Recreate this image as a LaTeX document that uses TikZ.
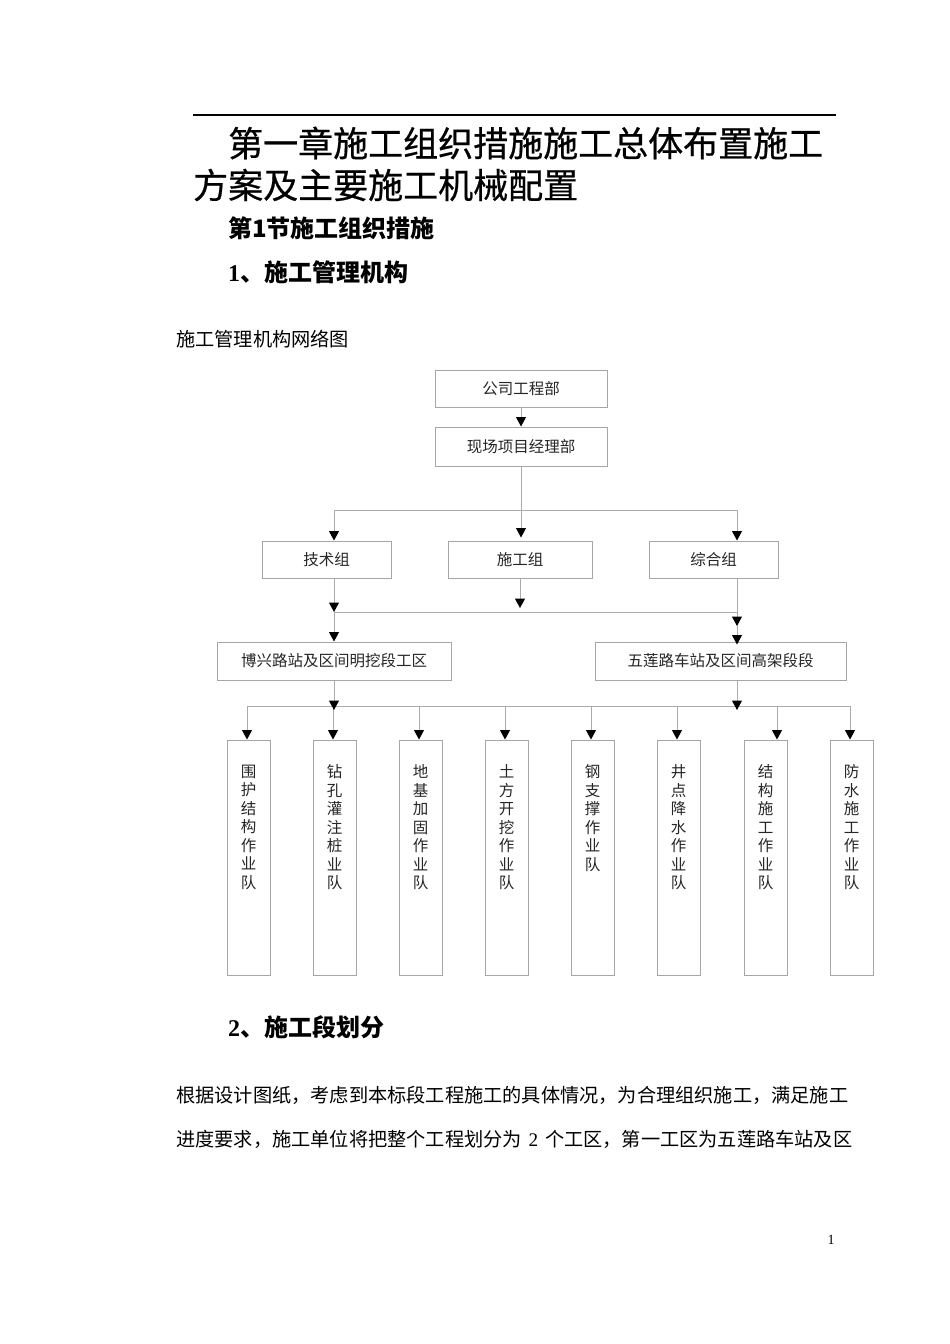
\documentclass[tikz,border=0pt]{standalone}
\usepackage{fontspec}
\setmainfont{Liberation Serif}
\newfontfamily\cjk{Noto Sans CJK SC}
\newfontfamily\cjktitle[FakeBold=0.6]{Noto Sans CJK SC}
\usetikzlibrary{arrows.meta,calc}
\XeTeXlinebreaklocale "zh"
\XeTeXlinebreakskip=0pt plus 3pt
\definecolor{lg}{HTML}{ABABAB}
\definecolor{bxc}{HTML}{A6A6A6}
\definecolor{tx}{HTML}{262626}
\tikzset{
  orgbox/.style={draw=bxc, line width=1pt, inner sep=0pt, font=\cjk\fontsize{15.5}{18.5}\selectfont, text=tx},
  conn/.style={draw=lg, line width=1pt},
  arr/.style={conn, -{Triangle[width=10pt,length=9.5pt,color=black]}},
  teambox/.style={draw=bxc, line width=1pt, minimum width=43pt, minimum height=235pt, inner sep=0pt},
  vtext/.style={font=\cjk\fontsize{15.5}{18.5}\selectfont, text=tx, align=center, inner sep=0pt, anchor=north},
  lefttext/.style={anchor=west, inner sep=0pt},
}
\begin{document}
\begin{tikzpicture}[x=1pt,y=-1pt]
\useasboundingbox (0,0) rectangle (950,1344);
\fill[white] (0,0) rectangle (950,1344);

% header
\draw[line width=1.3pt] (193,115) -- (836,115);
\node[lefttext, font=\cjktitle\fontsize{35}{40}\selectfont] (title1) at (228,143) {第一章施工组织措施施工总体布置施工};
\node[lefttext, font=\cjktitle\fontsize{35}{40}\selectfont] (title2) at (193,185) {方案及主要施工机械配置};
\node[lefttext, font=\cjk\bfseries\fontsize{24}{28}\selectfont] (sec1) at (228,228) {第1节施工组织措施};
\node[lefttext, font=\bfseries\fontsize{24}{28}\selectfont] (h1) at (228,272) {1{\cjk\bfseries 、施工管理机构}};
\node[lefttext, font=\cjk\fontsize{19.2}{22}\selectfont] (cap) at (176,339) {施工管理机构网络图};

% org boxes
\node[orgbox, minimum width=172pt, minimum height=37pt] (gs) at (521,388.5) {公司工程部};
\node[orgbox, minimum width=172pt, minimum height=39pt] (xc) at (521,446.5) {现场项目经理部};
\node[orgbox, minimum width=129pt, minimum height=37pt] (js) at (326.5,559.5) {技术组};
\node[orgbox, minimum width=144pt, minimum height=37pt] (sg) at (520,559.5) {施工组};
\node[orgbox, minimum width=129pt, minimum height=37pt] (zh) at (713.5,559.5) {综合组};
\node[orgbox, minimum width=234pt, minimum height=38pt] (bx) at (334,661) {博兴路站及区间明挖段工区};
\node[orgbox, minimum width=251pt, minimum height=38pt] (wl) at (720.5,661) {五莲路车站及区间高架段段};

% level 1 connectors
\coordinate (cL) at (334,510);
\coordinate (cR) at (737,510);
\draw[arr] (gs.south) -- (xc.north);
\draw[conn] (cL) -- (cR);
\draw[arr, shorten >=3pt] (xc.south) -- (xc.south |- sg.north);
\draw[arr] (cL) -- (cL |- js.north);
\draw[arr] (cR) -- (cR |- zh.north);

% level 2 connectors
\coordinate (dL) at (334,612);
\coordinate (dR) at (737,612);
\coordinate (dR2) at (737,626);
\draw[conn] (dL) -- (dR);
\draw[arr] (js.south -| dL) -- (dL);
\draw[arr, shorten >=4pt] (sg.south) -- (sg.south |- dL);
\draw[conn] (zh.south -| dR) -- (dR);
\draw[arr] (dR) -- (dR2);
\draw[arr, shorten >=-3pt] (dR2) -- (dR2 |- wl.north);
\draw[arr] (dL) -- (dL |- bx.north);

% team boxes
\foreach \i/\x/\ax/\txt in {
  1/248.5/247/{围\\护\\结\\构\\作\\业\\队},
  2/334.5/333/{钻\\孔\\灌\\注\\桩\\业\\队},
  3/420.5/419/{地\\基\\加\\固\\作\\业\\队},
  4/506.5/505/{土\\方\\开\\挖\\作\\业\\队},
  5/592.5/591/{钢\\支\\撑\\作\\业\\队},
  6/678.5/677/{井\\点\\降\\水\\作\\业\\队},
  7/765.5/777/{结\\构\\施\\工\\作\\业\\队},
  8/851.5/850/{防\\水\\施\\工\\作\\业\\队}} {
  \node[teambox] (t\i) at (\x,857.5) {};
  \node[vtext] (l\i) at ([yshift=-25pt]t\i.north) {\txt};
  \coordinate (a\i) at (\ax,706);
  \draw[arr] (a\i) -- (a\i |- t\i.north);
}
\draw[conn] (a1) -- (a8);
\draw[arr, shorten >=-4pt] (bx.south) -- (bx.south |- a1);
\draw[arr, shorten >=-4pt] (wl.south -| dR) -- (dR |- a1);

% section 2
\node[lefttext, font=\bfseries\fontsize{24}{28}\selectfont] (h2) at (228,1027) {2{\cjk\bfseries 、施工段划分}};
\node[lefttext, font=\cjk\fontsize{19.2}{22}\selectfont] (p1) at (176,1095) {\hbox to 676pt{根据设计图纸，考虑到本标段工程施工的具体情况，为合理组织施工，满足施工}};
\node[lefttext, font=\cjk\fontsize{19.2}{22}\selectfont] (p2) at (176,1139) {\hbox to 676pt{进度要求，施工单位将把整个工程划分为 {\rmfamily 2} 个工区，第一工区为五莲路车站及区}};

\node[font=\fontsize{14}{16}\selectfont] (pg) at (831,1240) {1};
\end{tikzpicture}
\end{document}
